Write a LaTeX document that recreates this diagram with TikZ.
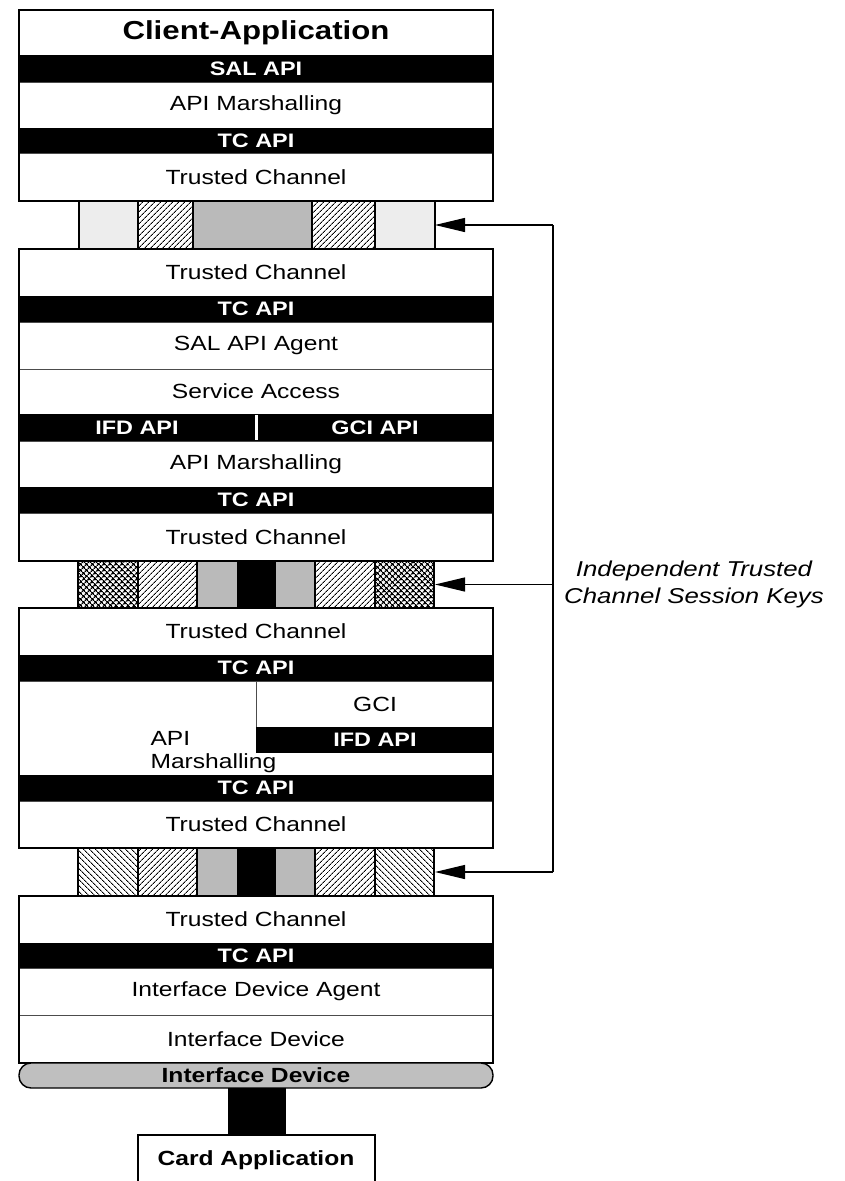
\documentclass[tikz,border=0pt]{standalone}
\usepackage{fontspec}
\setmainfont[FakeStretch=1.2]{Liberation Sans}
\usetikzlibrary{arrows.meta,patterns.meta}
\tikzset{
  row/.style={draw=black!70, line width=0.6pt, fill=white},
  apirow/.style={draw=black, line width=0.6pt, fill=black},
  frame/.style={draw=black, line width=1.6pt},
  txt/.style={font=\fontsize{20.5}{24}\selectfont},
  titletxt/.style={font=\bfseries\fontsize{26}{30}\selectfont},
  apitxt/.style={font=\bfseries\fontsize{19.5}{22}\selectfont, text=white},
  seg/.style={draw=black, line width=1.4pt},
  lightseg/.style={seg, fill=black!7},
  grayseg/.style={seg, fill=black!27},
  neseg/.style={seg, pattern={Lines[angle=45,distance=4pt,line width=0.9pt]}},
  nwseg/.style={seg, pattern={Lines[angle=-45,distance=4pt,line width=0.9pt]}},
  chkseg/.style={seg, pattern={Hatch[angle=45,distance=4pt,line width=1.3pt]}},
  blkseg/.style={seg, fill=black},
  keyarrow/.style={-{Triangle[length=30pt,width=14pt]}, line width=1.2pt},
}
\begin{document}
\begin{tikzpicture}[x=1pt,y=-1pt]
    \useasboundingbox (0,0) rectangle (844,1181);

    % Client side stack
    \draw[row] (19,10) rectangle (493,55);
    \node[titletxt] (client) at (256,32.5) {Client-Application};
    \draw[apirow] (19,55) rectangle (493,82);
    \node[apitxt] (salapi1) at (256,68.5) {SAL API};
    \draw[row] (19,82) rectangle (493,128);
    \node[txt] (marsh1) at (256,105) {API Marshalling};
    \draw[apirow] (19,128) rectangle (493,153);
    \node[apitxt] (tcapi1) at (256,140.5) {TC API};
    \draw[row] (19,153) rectangle (493,201);
    \node[txt] (tch1) at (256,177) {Trusted Channel};
    \draw[frame] (19,10) rectangle (493,201);

    % Channel 1
    \draw[lightseg] (79,201) rectangle (138,249);
    \draw[neseg] (138,201) rectangle (193,249);
    \draw[grayseg] (193,201) rectangle (312,249);
    \draw[neseg] (312,201) rectangle (375,249);
    \draw[lightseg] (375,201) rectangle (435,249);
    \coordinate (bar1) at (435,225);

    % Service access layer stack
    \draw[row] (19,249) rectangle (493,296);
    \node[txt] (tch2) at (256,272.5) {Trusted Channel};
    \draw[apirow] (19,296) rectangle (493,322);
    \node[apitxt] (tcapi2) at (256,309) {TC API};
    \draw[row] (19,322) rectangle (493,369);
    \node[txt] (agent) at (256,345.5) {SAL API Agent};
    \draw[row] (19,369) rectangle (493,414);
    \node[txt] (access) at (256,391.5) {Service Access};
    \draw[apirow] (19,414) rectangle (493,441);
    \draw[white, line width=3pt] (256,415) -- (256,440);
    \node[apitxt] (ifdapi1) at (137,427.5) {IFD API};
    \node[apitxt] (gciapi) at (375,427.5) {GCI API};
    \draw[row] (19,441) rectangle (493,487);
    \node[txt] (marsh2) at (256,464) {API Marshalling};
    \draw[apirow] (19,487) rectangle (493,513);
    \node[apitxt] (tcapi3) at (256,500) {TC API};
    \draw[row] (19,513) rectangle (493,561);
    \node[txt] (tch3) at (256,537) {Trusted Channel};
    \draw[frame] (19,249) rectangle (493,561);

    % Channel 2
    \draw[chkseg] (78,561) rectangle (138,608);
    \draw[neseg] (138,561) rectangle (197,608);
    \draw[grayseg] (197,561) rectangle (238,608);
    \draw[blkseg] (238,561) rectangle (275,608);
    \draw[grayseg] (275,561) rectangle (315,608);
    \draw[neseg] (315,561) rectangle (375,608);
    \draw[chkseg] (375,561) rectangle (434,608);
    \coordinate (bar2) at (435,584.5);

    % GCI stack
    \draw[row] (19,608) rectangle (493,655);
    \node[txt] (tch4) at (256,631.5) {Trusted Channel};
    \draw[apirow] (19,655) rectangle (493,681);
    \node[apitxt] (tcapi4) at (256,668) {TC API};
    \draw[row] (19,681) rectangle (493,775);
    \draw[row] (256,681) rectangle (493,727);
    \node[txt] (gci) at (375,704) {GCI};
    \draw[apirow] (256,727) rectangle (493,752);
    \node[apitxt] (ifdapi2) at (375,739.5) {IFD API};
    \node[txt, anchor=west] (marsh3a) at (147,738) {API};
    \node[txt, anchor=west] (marsh3b) at (147,763) {Marshalling};
    \draw[apirow] (19,775) rectangle (493,801);
    \node[apitxt] (tcapi5) at (256,788) {TC API};
    \draw[row] (19,801) rectangle (493,848);
    \node[txt] (tch5) at (256,824.5) {Trusted Channel};
    \draw[frame] (19,608) rectangle (493,848);

    % Channel 3
    \draw[nwseg] (78,848) rectangle (138,896);
    \draw[neseg] (138,848) rectangle (197,896);
    \draw[grayseg] (197,848) rectangle (238,896);
    \draw[blkseg] (238,848) rectangle (275,896);
    \draw[grayseg] (275,848) rectangle (315,896);
    \draw[neseg] (315,848) rectangle (375,896);
    \draw[nwseg] (375,848) rectangle (434,896);
    \coordinate (bar3) at (435,872);

    % Interface device stack
    \draw[row] (19,896) rectangle (493,943);
    \node[txt] (tch6) at (256,919.5) {Trusted Channel};
    \draw[apirow] (19,943) rectangle (493,968);
    \node[apitxt] (tcapi6) at (256,955.5) {TC API};
    \draw[row] (19,968) rectangle (493,1015);
    \node[txt] (ifdagent) at (256,991.5) {Interface Device Agent};
    \draw[row] (19,1015) rectangle (493,1063);
    \node[txt] (ifd) at (256,1039) {Interface Device};
    \draw[frame] (19,896) rectangle (493,1063);

    \draw[line width=1.4pt, fill=black!25, rounded corners=12pt] (19,1063) rectangle (493,1088);
    \node[font=\bfseries\fontsize{20.5}{24}\selectfont] (ifdbus) at (256,1075.5) {Interface Device};
    \draw[fill=black] (228,1088) rectangle (285,1135);
    \draw[line width=1.4pt, fill=white] (138,1135) rectangle (375,1190);
    \node[font=\bfseries\fontsize{20.5}{24}\selectfont] (card) at (256,1160) {Card Application};

    % Session keys
    \coordinate (k1) at (553,225);
    \coordinate (k2) at (553,584.5);
    \coordinate (k3) at (553,872);
    \draw[line width=1.2pt] (k1) -- (k3);
    \draw[keyarrow] (k1) -- (bar1);
    \draw[keyarrow] (k2) -- (bar2);
    \draw[keyarrow] (k3) -- (bar3);
    \node[font=\itshape\fontsize{21.5}{27}\selectfont, align=center] (keys) at (694,584) {Independent Trusted\\Channel Session Keys};
\end{tikzpicture}
\end{document}
